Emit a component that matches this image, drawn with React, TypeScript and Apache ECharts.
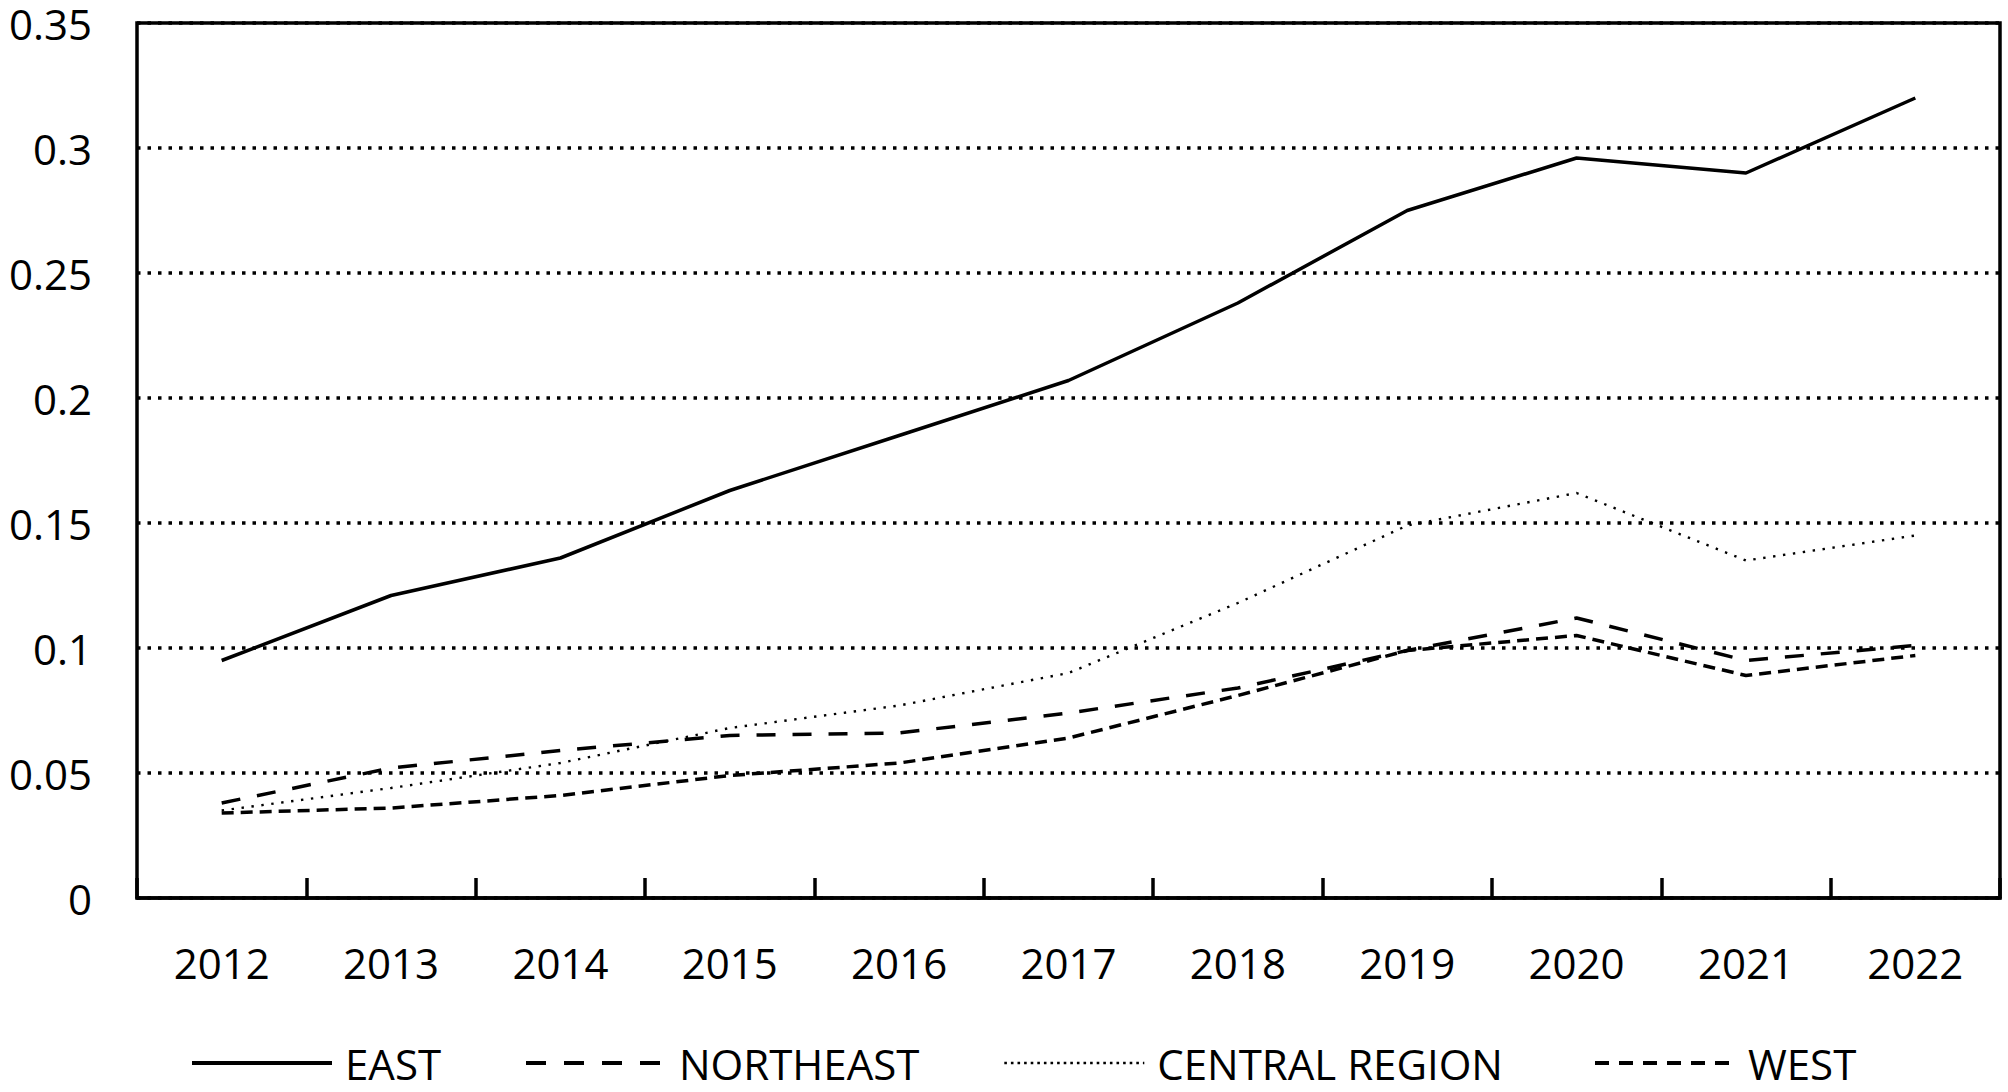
import React, { useEffect, useRef } from "react";
import * as echarts from "echarts";

const years = ["2012", "2013", "2014", "2015", "2016", "2017", "2018", "2019", "2020", "2021", "2022"];
const east = [0.095, 0.121, 0.136, 0.163, 0.185, 0.207, 0.238, 0.275, 0.296, 0.29, 0.32];
const northeast = [0.038, 0.052, 0.059, 0.065, 0.066, 0.074, 0.084, 0.099, 0.112, 0.095, 0.101];
const central = [0.035, 0.044, 0.054, 0.068, 0.077, 0.09, 0.118, 0.149, 0.162, 0.135, 0.145];
const west = [0.034, 0.036, 0.041, 0.049, 0.054, 0.064, 0.081, 0.099, 0.105, 0.089, 0.097];
const seriesNames = ["EAST", "NORTHEAST", "CENTRAL REGION", "WEST"];

const FONT = "'Open Sans', 'Noto Sans', sans-serif";

export default function App() {
  const ref = useRef<HTMLDivElement>(null);
  useEffect(() => {
    if (!ref.current) return;
    const chart = echarts.init(ref.current, null, { renderer: "svg" });
    const legendLefts = [190, 524, 1003, 1593];
    const lineStyles: any[] = [
      { color: "#000", width: 3.5, type: "solid" },
      { color: "#000", width: 3.5, type: [19, 17] },
      { color: "#000", width: 2.4, type: [2.4, 7.6] },
      { color: "#000", width: 3.5, type: [12, 7] },
    ];
    const legendLineStyles: any[] = [
      { color: "#000", width: 4, type: "solid", opacity: 1 },
      { color: "#000", width: 4, type: [20, 18], opacity: 1 },
      { color: "#000", width: 2.6, type: [2.6, 4], opacity: 1 },
      { color: "#000", width: 4, type: [14, 10], opacity: 1 },
    ];
    const datas = [east, northeast, central, west];
    chart.setOption({
      animation: false,
      backgroundColor: "#fff",
      textStyle: { fontFamily: FONT },
      grid: {
        left: 137,
        right: 8,
        top: 23,
        bottom: 194,
        show: true,
        borderColor: "#000",
        borderWidth: 3.5,
      },
      legend: seriesNames.map((n, i) => ({
        data: [n],
        left: legendLefts[i],
        top: 1042,
        padding: 0,
        itemWidth: 140,
        itemHeight: 20,
        itemStyle: { color: "rgba(0,0,0,0)", borderWidth: 0, opacity: 0 },
        lineStyle: legendLineStyles[i],
        textStyle: {
          fontFamily: FONT,
          fontSize: 42,
          lineHeight: 36,
          color: "#000",
          padding: [0, 0, 0, 8],
        },
      })),
      xAxis: {
        type: "category",
        data: years,
        boundaryGap: true,
        axisLine: { show: true, lineStyle: { color: "#000", width: 3.5 } },
        axisTick: { show: true, inside: true, length: 20, lineStyle: { color: "#000", width: 3.5 } },
        axisLabel: { color: "#000", fontSize: 42, fontFamily: FONT, margin: 43 },
        splitLine: { show: false },
      },
      yAxis: {
        type: "value",
        min: 0,
        max: 0.35,
        interval: 0.05,
        axisLine: { show: false },
        axisTick: { show: false },
        axisLabel: { color: "#000", fontSize: 42, lineHeight: 32, fontFamily: FONT, margin: 45 },
        splitLine: { show: true, lineStyle: { color: "#000", width: 3.5, type: [3.5, 7] } },
      },
      series: seriesNames.map((n, i) => ({
        name: n,
        type: "line",
        data: datas[i],
        symbol: "none",
        showSymbol: false,
        lineStyle: lineStyles[i],
        itemStyle: { color: "#000" },
      })),
    });
    return () => chart.dispose();
  }, []);
  return (
    <div
      ref={ref}
      style={{ position: "fixed", left: 0, top: 0, width: 2008, height: 1092, background: "#fff" }}
    />
  );
}
